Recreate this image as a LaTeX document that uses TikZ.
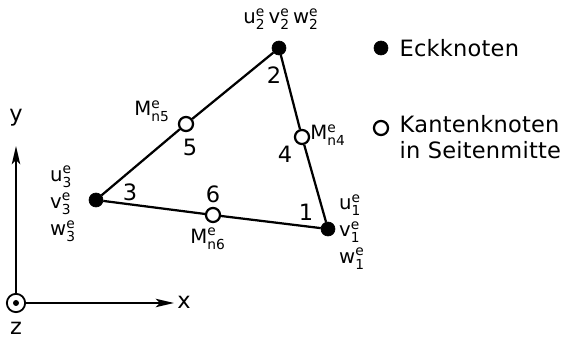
\documentclass[tikz,border=0pt]{standalone}
\usepackage{amsmath}
\usepackage{fontspec}
\setmainfont{DejaVu Sans}[LetterSpace=1]
\usetikzlibrary{arrows.meta, positioning}

% Freiheitsgrad mit Index und e
\newcommand{\fg}[2]{#1$^{\text{e}}_{\text{#2}}$}

\begin{document}
\begin{tikzpicture}[x=0.025cm, y=0.025cm,
    eck/.style={circle, fill=black, draw, inner sep=0pt, minimum size=10pt},
    kante/.style={circle, fill=white, draw, line width=1.6pt, inner sep=0pt, minimum size=10pt},
    lbl/.style={font=\fontsize{16}{18}\selectfont, inner sep=1pt},
    klein/.style={font=\fontsize{14}{15}\selectfont, inner sep=1pt},
    arr/.style={-{Stealth[length=13pt, width=6pt, inset=3pt]}, line width=1.3pt}]
    \useasboundingbox (0,0) rectangle (573,340);
    % Element
    \node[eck] (n1) at (328,111) {};
    \node[eck] (n2) at (279,292) {};
    \node[eck] (n3) at (96,140) {};
    \node[kante] (n4) at (302,203) {};
    \node[kante] (n5) at (186,216) {};
    \node[kante] (n6) at (213,125) {};
    \draw[line width=1.6pt] (n3) -- (n5) -- (n2) -- (n4) -- (n1) -- (n6) -- (n3);
    % Knotennummern
    \node[lbl] (z1) at (306,128) {1};
    \node[lbl] (z2) at (274,265) {2};
    \node[lbl] (z3) at (130,148) {3};
    \node[lbl] (z4) at (285,186) {4};
    \node[lbl] (z5) at (190,193) {5};
    \node[lbl] (z6) at (213,146) {6};
    % Freiheitsgrade
    \node[klein] (f2) at (281,321) {\fg{u}{2}\,\fg{v}{2}\,\fg{w}{2}};
    \node[klein, align=left] (f1) at (352,108) {\fg{u}{1}\\[3pt]\fg{v}{1}\\[3pt]\fg{w}{1}};
    \node[klein, align=left] (f3) at (63,136) {\fg{u}{3}\\[3pt]\fg{v}{3}\\[3pt]\fg{w}{3}};
    \node[klein] (m4) at (328,205) {M$^{\text{e}}_{\text{n4}}$};
    \node[klein] (m5) at (152,229) {M$^{\text{e}}_{\text{n5}}$};
    \node[klein] (m6) at (208,101) {M$^{\text{e}}_{\text{n6}}$};
    % Koordinatensystem
    \node[circle, draw, line width=1.3pt, minimum size=13pt, inner sep=0pt] (o) at (16,37) {};
    \fill (o.center) circle (3);
    \coordinate (xe) at (174,37);
    \coordinate (ye) at (16,194);
    \draw[arr] (o) -- (xe);
    \draw[arr] (o) -- (ye);
    \node[lbl] (lx) at (184,38) {x};
    \node[lbl] (ly) at (16,222) {y};
    \node[lbl] (lz) at (16,12) {z};
    % Legende
    \node[eck] (le) at (381,292) {};
    \node[lbl, anchor=west] (te) at (398,292) {Eckknoten};
    \node[kante] (lk) at (381,212) {};
    \node[lbl, anchor=north west, align=left] (tk) at (398,226) {Kantenknoten\\in Seitenmitte};
\end{tikzpicture}
\end{document}
